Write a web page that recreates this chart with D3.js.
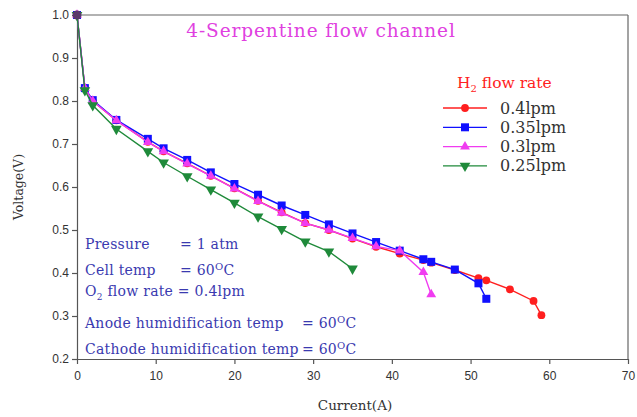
<!DOCTYPE html>
<html><head><meta charset="utf-8">
<script src="https://cdn.jsdelivr.net/npm/d3@7"></script>
<style>body{margin:0;background:#fff}svg{display:block}</style>
</head><body><svg id="c" width="637" height="417"></svg>
<script>
const seriesNames = ["0.4lpm","0.35lpm","0.3lpm","0.25lpm"];
const seriesColors = ["#ff1f1f","#1010ff","#f03cf0","#1f8a3a"];
const redX = [0,1,2,5,9,11,14,17,20,23,26,29,32,35,38,41,44,45,48,51,52,55,58,59];
const redY = [1.0,0.83,0.80,0.755,0.705,0.683,0.655,0.626,0.597,0.568,0.541,0.516,0.5,0.48,0.461,0.445,0.43,0.424,0.407,0.388,0.383,0.362,0.335,0.302];
const blueX = [0,1,2,5,9,11,14,17,20,23,26,29,32,35,38,41,44,45,48,51,52];
const blueY = [1.0,0.83,0.802,0.756,0.712,0.69,0.663,0.634,0.607,0.582,0.557,0.535,0.513,0.492,0.472,0.452,0.432,0.426,0.408,0.376,0.34];
const pinkX = [0,1,2,5,9,11,14,17,20,23,26,29,32,35,38,41,44,45];
const pinkY = [1.0,0.83,0.80,0.755,0.704,0.683,0.654,0.626,0.596,0.567,0.54,0.516,0.5,0.481,0.462,0.452,0.402,0.35];
const greenX = [0,1,2,5,9,11,14,17,20,23,26,29,32,35];
const greenY = [1.0,0.825,0.79,0.735,0.683,0.657,0.625,0.594,0.563,0.531,0.502,0.473,0.45,0.41];
const xTicks = [0,10,20,30,40,50,60,70];
const yTicks = [0.2,0.3,0.4,0.5,0.6,0.7,0.8,0.9,1.0];

const seriesData = [[redX,redY],[blueX,blueY],[pinkX,pinkY],[greenX,greenY]];
const symbols = [d3.symbolCircle, d3.symbolSquare, d3.symbolTriangle, d3.symbolTriangle];
const symSizes = [48, 64, 42, 50];
const symRot = [0,0,0,180];

const svg = d3.select("#c");
const L=77,R=628,T=15,B=359;
const x = d3.scaleLinear().domain([0,70]).range([L,R]);
const y = d3.scaleLinear().domain([0.2,1.0]).range([B,T]);

// frame
svg.append("line").attr("x1",L).attr("x2",R).attr("y1",T).attr("y2",T).attr("stroke","#666").attr("stroke-width",1.2);
svg.append("line").attr("x1",R).attr("x2",R).attr("y1",T).attr("y2",B).attr("stroke","#666").attr("stroke-width",1.2);

const xa = svg.append("g").attr("transform",`translate(0,${B})`)
  .call(d3.axisBottom(x).tickValues(xTicks).tickFormat(d3.format("d")).tickSize(5).tickSizeOuter(0));
const ya = svg.append("g").attr("transform",`translate(${L},0)`)
  .call(d3.axisLeft(y).tickValues(yTicks).tickFormat(d3.format(".1f")).tickSize(5).tickSizeOuter(0));
[xa,ya].forEach(a=>{
  a.selectAll("path,line").attr("stroke","#555").attr("stroke-width",1.2);
  a.selectAll("text").attr("fill","#333").style("font-family","Liberation Sans, Arial, sans-serif").style("font-size","12px");
});
xa.selectAll("text").attr("dy","1.1em");

svg.append("text").attr("x",355).attr("y",410).attr("text-anchor","middle")
  .style("font-family","DejaVu Serif, serif").style("font-size","13.5px").attr("fill","#333").text("Current(A)");
svg.append("text").attr("transform","translate(23,187) rotate(-90)").attr("text-anchor","middle")
  .style("font-family","DejaVu Serif, serif").style("font-size","12.5px").attr("fill","#333").text("Voltage(V)");

const line = d3.line().x(d=>x(d[0])).y(d=>y(d[1]));
seriesData.forEach((s,i)=>{
  const pts = s[0].map((v,j)=>[v,s[1][j]]);
  svg.append("path").datum(pts).attr("d",line).attr("fill","none")
    .attr("stroke",seriesColors[i]).attr("stroke-width",1.4);
  svg.append("g").selectAll("path").data(pts).join("path")
    .attr("d",d3.symbol().type(symbols[i]).size(symSizes[i]))
    .attr("transform",d=>`translate(${x(d[0])},${y(d[1])}) rotate(${symRot[i]})`)
    .attr("fill",seriesColors[i]);
});
// dark start marker
svg.append("circle").attr("cx",x(0)).attr("cy",y(1.0)).attr("r",4.5).attr("fill","#5a3a6a");

// title
svg.append("text").attr("x",321).attr("y",37).attr("text-anchor","middle")
  .style("font-family","DejaVu Serif, serif").style("font-size","18.5px").style("letter-spacing","0.9px")
  .attr("fill","#e040e0").text("4-Serpentine flow channel");

// legend
const lt = svg.append("text").attr("x",457).attr("y",88)
  .style("font-family","DejaVu Serif, serif").style("font-size","15.5px").attr("fill","#ff2020");
lt.append("tspan").text("H");
lt.append("tspan").attr("dy",4).style("font-size","10px").text("2");
lt.append("tspan").attr("dy",-4).text(" flow rate");
seriesNames.forEach((n,i)=>{
  const yy = 108 + i*19.3;
  svg.append("line").attr("x1",443).attr("x2",487).attr("y1",yy).attr("y2",yy)
    .attr("stroke",seriesColors[i]).attr("stroke-width",1.3);
  svg.append("path").attr("d",d3.symbol().type(symbols[i]).size(symSizes[i])())
    .attr("transform",`translate(465,${yy}) rotate(${symRot[i]})`).attr("fill",seriesColors[i]);
  svg.append("text").attr("x",500).attr("y",yy+5.5)
    .style("font-family","DejaVu Serif, serif").style("font-size","16px").attr("fill","#333").text(n);
});

// annotations
const ac = "#3a3ab0";
function ann(yy, parts){
  const t = svg.append("text").attr("y",yy).style("font-family","DejaVu Serif, serif")
    .style("font-size","14px").style("letter-spacing","0.25px").attr("fill",ac);
  parts.forEach(p=>{
    const s = t.append("tspan").text(p.t);
    if(p.x!==undefined) s.attr("x",p.x);
    if(p.dy!==undefined) s.attr("dy",p.dy);
    if(p.fs) s.style("font-size",p.fs);
  });
}
const deg = (xx)=>[{t:"= 60",x:xx},{t:"O",dy:-5,fs:"10px"},{t:"C",dy:5}];
ann(249,[{t:"Pressure",x:85},{t:"= 1 atm",x:180}]);
ann(275,[{t:"Cell temp",x:85}].concat(deg(180)));
ann(296,[{t:"O",x:85},{t:"2",dy:4,fs:"9px"},{t:" flow rate = 0.4lpm",dy:-4}]);
ann(328,[{t:"Anode humidification temp",x:85}].concat(deg(302)));
ann(354,[{t:"Cathode humidification temp",x:85}].concat(deg(302)));
</script></body></html>
